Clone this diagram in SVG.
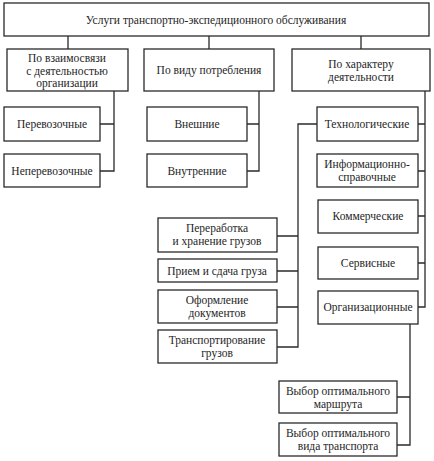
<svg xmlns="http://www.w3.org/2000/svg" width="434" height="461" viewBox="0 0 434 461">
<style>
rect{fill:#fff;stroke:#2a2a2a;stroke-width:1.3}
text{font-family:"Liberation Serif","DejaVu Serif",serif;font-size:11.5px;fill:#1e1e1e;text-anchor:middle}
.c path{fill:none;stroke:#2a2a2a;stroke-width:1.3}
</style>
<rect x="0" y="0" width="434" height="461" style="stroke:none"/>
<g class="c" id="connectors">
<path d="M68 36V49M209 36V49M361 36V49"/>
<path d="M114 91V171H100M100 124H114"/>
<path d="M259 91V171H247M247 124H259"/>
<path d="M425 91V307H418M418 124H425M418 171H425M418 216H425M418 263H425"/>
<path d="M317 124H298V347H277M277 236H298M277 271H298M277 307H298"/>
<path d="M410 324V445H397M397 397H410"/>
</g>
<g id="root"><rect x="4" y="3" width="425" height="33"/><text x="216" y="24">Услуги транспортно-экспедиционного обслуживания</text></g>
<g id="n1"><rect x="7" y="49" width="121" height="42"/><text x="67" y="62">По взаимосвязи</text><text x="67" y="75">с деятельностью</text><text x="67" y="87">организации</text></g>
<g id="n2"><rect x="144" y="49" width="130" height="42"/><text x="209" y="74">По виду потребления</text></g>
<g id="n3"><rect x="292" y="49" width="138" height="42"/><text x="361" y="68">По характеру</text><text x="361" y="81">деятельности</text></g>
<g id="n4"><rect x="4" y="107" width="96" height="34"/><text x="52" y="128">Перевозочные</text></g>
<g id="n5"><rect x="4" y="154" width="96" height="33"/><text x="52" y="175">Неперевозочные</text></g>
<g id="n6"><rect x="147" y="107" width="100" height="34"/><text x="197" y="128">Внешние</text></g>
<g id="n7"><rect x="147" y="154" width="100" height="33"/><text x="197" y="175">Внутренние</text></g>
<g id="n8"><rect x="317" y="107" width="101" height="34"/><text x="367" y="128">Технологические</text></g>
<g id="n9"><rect x="317" y="154" width="101" height="33"/><text x="367" y="168">Информационно-</text><text x="367" y="181">справочные</text></g>
<g id="n10"><rect x="318" y="200" width="100" height="33"/><text x="368" y="220">Коммерческие</text></g>
<g id="n11"><rect x="318" y="247" width="100" height="32"/><text x="368" y="267">Сервисные</text></g>
<g id="n12"><rect x="318" y="291" width="100" height="33"/><text x="368" y="311">Организационные</text></g>
<g id="n13"><rect x="158" y="218" width="119" height="34"/><text x="217" y="232">Переработка</text><text x="217" y="245">и хранение грузов</text></g>
<g id="n14"><rect x="158" y="259" width="119" height="23"/><text x="217" y="275">Прием и сдача груза</text></g>
<g id="n15"><rect x="158" y="290" width="119" height="33"/><text x="217" y="304">Оформление</text><text x="217" y="317">документов</text></g>
<g id="n16"><rect x="158" y="330" width="119" height="33"/><text x="217" y="344">Транспортирование</text><text x="217" y="357">грузов</text></g>
<g id="n17"><rect x="279" y="381" width="118" height="32"/><text x="338" y="395">Выбор оптимального</text><text x="338" y="408">маршрута</text></g>
<g id="n18"><rect x="279" y="423" width="118" height="33"/><text x="338" y="437">Выбор оптимального</text><text x="338" y="450">вида транспорта</text></g>
</svg>
